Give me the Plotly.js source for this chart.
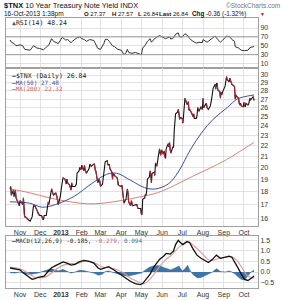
<!DOCTYPE html>
<html><head><meta charset="utf-8">
<script src="https://cdn.plot.ly/plotly-3.0.1.min.js"></script>
<style>body{margin:0;padding:0;background:#fff}#chart{width:285px;height:300px}</style>
</head><body><div id="chart"></div>
<script>
// ---------- DATA ----------
const priceDates = ['2012-10-17','2012-10-18','2012-10-19','2012-10-22','2012-10-23','2012-10-24','2012-10-25','2012-10-26','2012-10-31','2012-11-01','2012-11-02','2012-11-05','2012-11-06','2012-11-07','2012-11-08','2012-11-09','2012-11-13','2012-11-15','2012-11-16','2012-11-19','2012-11-20','2012-11-21','2012-11-23','2012-11-26','2012-11-28','2012-11-30','2012-12-03','2012-12-05','2012-12-06','2012-12-07','2012-12-10','2012-12-11','2012-12-12','2012-12-13','2012-12-14','2012-12-17','2012-12-18','2012-12-19','2012-12-21','2012-12-24','2012-12-26','2012-12-28','2012-12-31',
'2013-01-02','2013-01-03','2013-01-04','2013-01-07','2013-01-09','2013-01-10','2013-01-11','2013-01-14','2013-01-16','2013-01-17','2013-01-18','2013-01-22','2013-01-24','2013-01-25','2013-01-28','2013-01-29','2013-01-31','2013-02-01','2013-02-04','2013-02-05','2013-02-06','2013-02-08','2013-02-12','2013-02-13','2013-02-15','2013-02-19','2013-02-20','2013-02-21','2013-02-22','2013-02-25','2013-02-26','2013-02-27','2013-02-28','2013-03-01','2013-03-04','2013-03-05','2013-03-06','2013-03-07','2013-03-08','2013-03-11','2013-03-12','2013-03-14','2013-03-15','2013-03-18','2013-03-19','2013-03-20','2013-03-22','2013-03-26','2013-03-27','2013-03-28','2013-04-01','2013-04-02','2013-04-03','2013-04-04','2013-04-05','2013-04-08','2013-04-09','2013-04-10','2013-04-11','2013-04-12','2013-04-15','2013-04-16','2013-04-18','2013-04-22','2013-04-24','2013-04-26','2013-04-30','2013-05-01','2013-05-02','2013-05-03','2013-05-06','2013-05-07','2013-05-08','2013-05-09','2013-05-10','2013-05-13','2013-05-14','2013-05-15','2013-05-16','2013-05-17','2013-05-20','2013-05-21','2013-05-22','2013-05-24','2013-05-28','2013-05-29','2013-05-30','2013-05-31','2013-06-03','2013-06-04','2013-06-05','2013-06-06','2013-06-07','2013-06-10','2013-06-11','2013-06-12','2013-06-13','2013-06-14','2013-06-17','2013-06-18','2013-06-19','2013-06-20','2013-06-21','2013-06-24','2013-06-25','2013-06-26','2013-06-27','2013-06-28','2013-07-01','2013-07-02','2013-07-03','2013-07-05','2013-07-08','2013-07-09','2013-07-10','2013-07-11','2013-07-12','2013-07-15','2013-07-17','2013-07-18','2013-07-19','2013-07-22','2013-07-23','2013-07-24','2013-07-26','2013-07-29','2013-07-31','2013-08-01','2013-08-02','2013-08-05','2013-08-06','2013-08-07','2013-08-09','2013-08-12','2013-08-13','2013-08-14','2013-08-15','2013-08-16','2013-08-19','2013-08-20','2013-08-21','2013-08-22','2013-08-23','2013-08-26','2013-08-27','2013-08-28','2013-08-29','2013-08-30','2013-09-03','2013-09-04','2013-09-05','2013-09-06','2013-09-09','2013-09-10','2013-09-11','2013-09-12','2013-09-13','2013-09-16','2013-09-17','2013-09-18','2013-09-19','2013-09-20','2013-09-23','2013-09-24','2013-09-25','2013-09-26','2013-09-27','2013-09-30','2013-10-01','2013-10-02','2013-10-03','2013-10-04','2013-10-07','2013-10-08','2013-10-09','2013-10-10','2013-10-11','2013-10-15','2013-10-16'];
const priceValues = [18.2,18.4,17.7,18.1,17.6,17.9,18.1,17.5,16.9,17.3,17.2,17.0,17.5,16.3,16.1,16.1,15.9,15.8,15.8,16.1,16.6,16.9,16.9,16.6,16.3,16.2,16.2,15.9,15.9,16.2,16.2,16.5,17.0,17.2,17.0,17.7,18.2,18.0,17.7,17.9,17.6,17.0,17.6,
18.4,19.0,19.1,19.0,18.6,19.0,18.7,18.5,18.1,18.7,18.4,18.4,18.6,19.5,19.7,20.0,19.8,20.2,19.7,20.2,19.8,19.5,19.9,20.3,20.1,20.3,20.3,19.8,19.7,18.7,18.8,19.0,18.8,18.4,18.6,19.0,19.4,20.0,20.5,20.6,20.2,20.3,19.9,19.6,19.0,19.5,19.3,19.1,18.5,18.5,18.4,18.5,18.0,17.6,17.1,17.4,17.7,18.2,17.9,17.2,16.9,17.3,16.9,17.0,17.0,16.7,16.7,16.3,16.3,17.4,17.5,17.8,17.7,18.1,19.0,19.2,19.7,19.4,18.7,19.5,19.6,19.3,20.4,20.1,21.7,21.3,21.1,21.6,21.2,21.5,20.9,20.8,21.7,22.2,21.9,22.3,21.6,21.3,21.9,21.8,23.5,24.2,25.3,25.5,25.8,25.4,24.7,24.9,24.8,24.3,25.0,27.1,26.4,26.4,26.7,25.7,25.8,25.4,25.0,25.3,24.8,24.8,25.1,26.0,25.6,26.1,25.8,27.1,26.0,26.4,26.5,26.0,25.8,26.2,27.1,27.1,27.7,28.3,28.8,28.2,28.9,28.9,28.1,27.9,27.1,27.8,27.5,27.8,28.6,29.0,29.8,29.4,29.1,29.6,29.2,29.1,28.8,28.6,28.5,27.0,27.5,27.3,27.1,26.5,26.3,26.5,26.2,26.1,26.6,26.2,26.1,26.5,26.3,26.4,26.8,27.1,26.9,27.3,26.84];

const ma50Dates = ['2012-10-17','2012-11-15','2012-12-04','2012-12-24','2013-01-20','2013-02-15','2013-03-10','2013-03-25','2013-04-15','2013-05-06','2013-05-22','2013-06-10','2013-06-25','2013-07-13','2013-07-30','2013-08-16','2013-09-06','2013-09-21','2013-10-06','2013-10-16'];
const ma50Values = [17.2,17.1,16.8,17.0,17.6,18.6,19.4,19.5,18.9,18.3,18.2,18.6,19.6,21.6,23.3,24.7,26.0,27.0,27.35,27.48];

const ma200Dates = ['2012-10-17','2012-11-15','2012-12-15','2013-01-15','2013-02-10','2013-03-05','2013-04-01','2013-05-01','2013-05-25','2013-06-20','2013-07-15','2013-08-10','2013-09-05','2013-10-01','2013-10-16'];
const ma200Values = [18.2,17.9,17.5,17.2,17.05,17.1,17.3,17.6,17.9,18.5,19.2,19.9,20.7,21.7,22.32];

const rsiDates = ['2012-10-17','2012-10-19','2012-10-23','2012-10-26','2012-11-01','2012-11-05','2012-11-08','2012-11-13','2012-11-16','2012-11-21','2012-11-26','2012-11-30','2012-12-04','2012-12-06','2012-12-11','2012-12-14','2012-12-18','2012-12-21','2012-12-28','2013-01-03','2013-01-08','2013-01-11','2013-01-16','2013-01-18','2013-01-25','2013-01-29','2013-02-01','2013-02-05','2013-02-08','2013-02-13','2013-02-19','2013-02-22','2013-02-25','2013-03-01','2013-03-06','2013-03-08','2013-03-11','2013-03-14','2013-03-19','2013-03-22','2013-03-27','2013-04-01','2013-04-05','2013-04-08','2013-04-10','2013-04-12','2013-04-17','2013-04-22','2013-04-26','2013-05-01','2013-05-03','2013-05-07','2013-05-10','2013-05-14','2013-05-16','2013-05-22','2013-05-28','2013-05-31','2013-06-06','2013-06-12','2013-06-14','2013-06-18','2013-06-21','2013-06-25','2013-06-27','2013-07-01','2013-07-05','2013-07-09','2013-07-12','2013-07-17','2013-07-22','2013-07-26','2013-07-31','2013-08-01','2013-08-07','2013-08-13','2013-08-19','2013-08-23','2013-08-27','2013-08-30','2013-09-05','2013-09-10','2013-09-13','2013-09-17','2013-09-18','2013-09-23','2013-09-27','2013-10-02','2013-10-07','2013-10-10','2013-10-16'];
const rsiValues = [63,58,55,50,52,50,42,40,40,50,45,44,43,41,48,52,66,60,55,69,63,64,57,60,68,70,66,64,60,64,62,54,44,42,55,64,65,60,50,48,42,40,30,34,42,35,33,35,33,30,45,52,60,66,58,68,73,71,66,70,65,68,76,79,70,70,77,73,66,60,56,58,57,64,58,65,72,64,58,62,72,70,64,60,48,45,40,39,40,46,48.24];

const macdDates = ['2012-10-17','2012-10-24','2012-11-01','2012-11-08','2012-11-13','2012-11-19','2012-11-23','2012-11-28','2012-12-03','2012-12-07','2012-12-12','2012-12-18','2012-12-24','2012-12-31','2013-01-04','2013-01-10','2013-01-16','2013-01-22','2013-01-28','2013-02-04','2013-02-12','2013-02-19','2013-02-25','2013-03-01','2013-03-08','2013-03-13','2013-03-20','2013-03-28','2013-04-03','2013-04-10','2013-04-15','2013-04-22','2013-04-29','2013-05-03','2013-05-08','2013-05-14','2013-05-20','2013-05-28','2013-06-03','2013-06-07','2013-06-13','2013-06-18','2013-06-21','2013-06-25','2013-06-28','2013-07-02','2013-07-08','2013-07-12','2013-07-17','2013-07-23','2013-07-29','2013-08-05','2013-08-09','2013-08-15','2013-08-21','2013-08-27','2013-09-03','2013-09-09','2013-09-13','2013-09-18','2013-09-23','2013-09-27','2013-10-02','2013-10-07','2013-10-10','2013-10-14','2013-10-16'];
const macdValues = [0.19,0.15,0.1,-0.1,-0.2,-0.35,-0.32,-0.25,-0.22,-0.2,0.0,0.2,0.3,0.4,0.48,0.42,0.33,0.36,0.48,0.55,0.5,0.42,0.2,0.13,0.22,0.25,0.12,-0.05,-0.2,-0.35,-0.45,-0.55,-0.6,-0.55,-0.35,-0.1,0.26,0.6,0.75,0.88,0.85,1.0,1.3,1.5,1.4,1.3,1.45,1.4,1.1,0.8,0.65,0.5,0.45,0.6,0.8,0.65,0.7,0.75,0.7,0.45,0.15,-0.1,-0.35,-0.4,-0.35,-0.25,-0.185];

const signalDates = ['2012-10-17','2012-10-26','2012-11-05','2012-11-15','2012-11-23','2012-12-01','2012-12-10','2012-12-18','2012-12-28','2013-01-07','2013-01-15','2013-01-25','2013-02-05','2013-02-15','2013-02-25','2013-03-05','2013-03-15','2013-03-25','2013-04-05','2013-04-15','2013-04-25','2013-05-05','2013-05-12','2013-05-20','2013-05-28','2013-06-05','2013-06-15','2013-06-25','2013-07-03','2013-07-12','2013-07-20','2013-07-30','2013-08-08','2013-08-15','2013-08-25','2013-09-05','2013-09-15','2013-09-23','2013-09-30','2013-10-07','2013-10-16'];
const signalValues = [0.22,0.2,0.1,-0.1,-0.25,-0.28,-0.22,-0.05,0.2,0.35,0.4,0.4,0.5,0.5,0.35,0.22,0.2,0.12,-0.05,-0.3,-0.45,-0.55,-0.4,-0.1,0.25,0.55,0.8,1.15,1.35,1.4,1.2,0.9,0.6,0.55,0.65,0.7,0.7,0.45,0.1,-0.2,-0.279];

const histDates = ['2012-10-17','2012-10-24','2012-11-01','2012-11-08','2012-11-15','2012-11-21','2012-11-28','2012-12-04','2012-12-10','2012-12-17','2012-12-21','2012-12-28','2013-01-04','2013-01-10','2013-01-16','2013-01-22','2013-01-29','2013-02-05','2013-02-12','2013-02-19','2013-02-26','2013-03-04','2013-03-08','2013-03-13','2013-03-20','2013-03-27','2013-04-03','2013-04-10','2013-04-17','2013-04-24','2013-05-01','2013-05-07','2013-05-13','2013-05-20','2013-05-28','2013-06-04','2013-06-10','2013-06-14','2013-06-21','2013-06-26','2013-07-01','2013-07-05','2013-07-09','2013-07-12','2013-07-18','2013-07-24','2013-07-30','2013-08-05','2013-08-09','2013-08-15','2013-08-21','2013-08-27','2013-09-03','2013-09-09','2013-09-13','2013-09-18','2013-09-23','2013-09-27','2013-10-02','2013-10-07','2013-10-11','2013-10-16'];
const histValues = [-0.03,-0.05,0.0,-0.08,-0.12,-0.1,-0.05,0.02,0.08,0.15,0.12,0.05,0.12,0.05,-0.05,0.0,0.08,0.06,0.0,-0.05,-0.15,-0.1,0.02,0.05,-0.02,-0.1,-0.15,-0.2,-0.15,-0.1,-0.05,0.1,0.22,0.3,0.3,0.2,0.15,0.1,0.2,0.28,0.05,0.15,0.32,0.1,-0.15,-0.28,-0.25,-0.15,-0.12,0.0,0.15,0.02,0.0,0.05,0.0,-0.1,-0.25,-0.35,-0.38,-0.2,-0.02,0.094];

const monthTicks = ['2012-11-01','2012-12-01','2013-01-01','2013-02-01','2013-03-01','2013-04-01','2013-05-01','2013-06-01','2013-07-01','2013-08-01','2013-09-01','2013-10-01'];
const monthLabels = ['Nov','Dec','<b>2013</b>','Feb','Mar','Apr','May','Jun','Jul','Aug','Sep','Oct'];
const priceTicks = [16,17,18,19,20,21,22,23,24,25,26,27,28,29,30];
const rsiTicks = [10,30,50,70,90];
const rsiBands = [30,70];
const macdTicks = [-0.5,0.0,0.5,1.0,1.5];

// ---------- BUILD ----------
const W = 285, H = 300, L = 6, R = 27;
const px = x => (x - L) / (W - L - R);
const py = y => 1 - y / H;
const FONT = 'Liberation Sans, Arial, sans-serif';

// down segments of the price line drawn in red
const downX = [], downY = [];
for (let i = 0; i < priceValues.length - 1; i++) {
  if (priceValues[i + 1] < priceValues[i]) {
    downX.push(priceDates[i], priceDates[i + 1], null);
    downY.push(priceValues[i], priceValues[i + 1], null);
  }
}

const traces = [
  {x: rsiDates, y: rsiValues, xaxis: 'x', yaxis: 'y', type: 'scatter', mode: 'lines', line: {color: '#333', width: 1}, hoverinfo: 'skip'},
  {x: ma200Dates, y: ma200Values, xaxis: 'x2', yaxis: 'y2', type: 'scatter', mode: 'lines', line: {color: '#d98274', width: 1, shape: 'spline'}},
  {x: ma50Dates, y: ma50Values, xaxis: 'x2', yaxis: 'y2', type: 'scatter', mode: 'lines', line: {color: '#3d4f9c', width: 1, shape: 'spline'}},
  {x: priceDates, y: priceValues, xaxis: 'x2', yaxis: 'y2', type: 'scatter', mode: 'lines', line: {color: '#111', width: 1.1}},
  {x: downX, y: downY, xaxis: 'x2', yaxis: 'y2', type: 'scatter', mode: 'lines', connectgaps: false, line: {color: '#a8283a', width: 1.1}},
  {x: histDates, y: histValues, xaxis: 'x3', yaxis: 'y3', type: 'scatter', mode: 'lines', fill: 'tozeroy', fillcolor: '#3c75aa', line: {color: '#2c5f90', width: 0.5}},
  {x: signalDates, y: signalValues, xaxis: 'x3', yaxis: 'y3', type: 'scatter', mode: 'lines', line: {color: '#e39a94', width: 1.1, shape: 'spline'}},
  {x: macdDates, y: macdValues, xaxis: 'x3', yaxis: 'y3', type: 'scatter', mode: 'lines', line: {color: '#111', width: 1.3}}
];

const xRange = ['2012-10-11', '2013-10-22'];
const xBase = {type: 'date', range: xRange, tickvals: monthTicks, ticktext: monthLabels, showgrid: true, gridcolor: '#e2e2e2', gridwidth: 1, showline: true, mirror: true, linecolor: '#a0a0a0', linewidth: 1, ticks: '', zeroline: false, fixedrange: true, tickfont: {family: FONT, size: 7, color: '#333'}, automargin: false};
const yBase = {side: 'right', showgrid: true, gridcolor: '#e2e2e2', showline: true, mirror: true, linecolor: '#a0a0a0', linewidth: 1, ticks: '', zeroline: false, fixedrange: true, tickfont: {family: FONT, size: 7, color: '#333'}, automargin: false};

const layout = {
  width: W, height: H,
  margin: {l: L, r: R, t: 0, b: 0, pad: 0},
  paper_bgcolor: '#fff', plot_bgcolor: '#fff',
  showlegend: false,
  xaxis: Object.assign({}, xBase, {domain: [0, 1], anchor: 'y', showticklabels: false}),
  yaxis: Object.assign({}, yBase, {domain: [py(68), py(18)], range: [0, 112.5], tickvals: rsiTicks}),
  xaxis2: Object.assign({}, xBase, {domain: [0, 1], anchor: 'y2', showticklabels: true}),
  yaxis2: Object.assign({}, yBase, {domain: [py(226), py(68)], type: 'log', range: [Math.log10(15.47), Math.log10(30.94)], tickvals: priceTicks}),
  xaxis3: Object.assign({}, xBase, {domain: [0, 1], anchor: 'y3', showticklabels: true}),
  yaxis3: Object.assign({}, yBase, {domain: [py(288), py(236)], range: [-0.76, 1.71], tickvals: macdTicks, tickformat: '.1f'}),
  shapes: rsiBands.map(v => ({type: 'line', xref: 'x domain', yref: 'y', x0: 0, x1: 1, y0: v, y1: v, line: {color: '#9a9a9a', width: 1}})),
  annotations: []
};

function note(text, x, y, size, color, anchor, family) {
  layout.annotations.push({text: text, xref: 'paper', yref: 'paper', x: px(x), y: py(y), xanchor: anchor || 'left', yanchor: 'middle', showarrow: false, font: {family: family || FONT, size: size, color: color || '#111'}});
}
note('<b>$TNX</b> 10 Year Treasury Note Yield INDX', 2, 5, 7.5, '#111');
note('©StockCharts.com', 282, 5, 6.5, '#777', 'right');
note('16-Oct-2013 1:38pm', 2, 13.5, 6.5, '#111');
note('<b>O</b> 27.37', 82, 13.5, 6, '#111');
note('<b>H</b> 27.57', 110, 13.5, 6, '#111');
note('<b>L</b> 26.84', 136, 13.5, 6, '#111');
note('<b>Last</b> 26.84', 157, 13.5, 6, '#111');
note('<b>Chg</b> -0.36 (-1.32%)', 190, 13.5, 6.3, '#111');
note('▼', 258, 13.5, 5, '#c00000');
note('<span style="color:#555">▲</span>RSI(14) 48.24', 10, 23, 6.5, '#222', 'left', 'DejaVu Sans Mono, monospace');
note('<b>—</b>$TNX (Daily) 26.84', 10, 76, 6.5, '#222', 'left', 'DejaVu Sans Mono, monospace');
note('<b>—</b>MA(50) 27.48', 10, 82, 6, '#3d4f9c', 'left', 'DejaVu Sans Mono, monospace');
note('<b>—</b>MA(200) 22.32', 10, 88, 6, '#d0605a', 'left', 'DejaVu Sans Mono, monospace');
note('<b>—</b>MACD(12,26,9) -0.185, <span style="color:#d0605a">-0.279,</span> <span style="color:#3c75aa">0.094</span>', 10, 240.5, 6, '#222', 'left', 'DejaVu Sans Mono, monospace');

Plotly.newPlot('chart', traces, layout, {staticPlot: true, displayModeBar: false});
</script>
</body></html>
